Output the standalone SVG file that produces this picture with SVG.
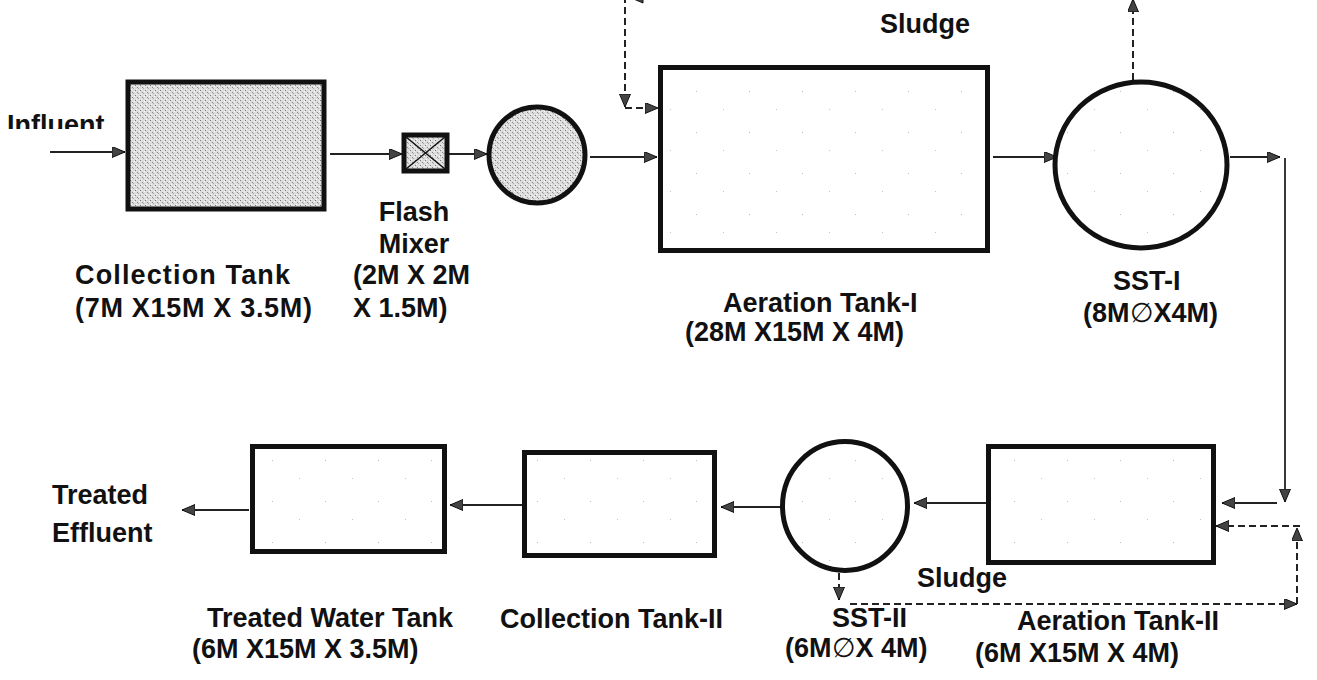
<svg xmlns="http://www.w3.org/2000/svg" width="1317" height="680" viewBox="0 0 1317 680">
<style>
text{font-family:"Liberation Sans",Arial,sans-serif;font-weight:bold;font-size:27px;fill:#111}
.thin{font-weight:normal}
.tank{stroke:#111;stroke-width:5;fill:url(#sparse)}
.dense{stroke:#111;stroke-width:5;fill:url(#dense)}
.flow{stroke:#222;stroke-width:1.8;fill:none;marker-end:url(#ah)}
.dash{stroke:#222;stroke-width:2;fill:none;stroke-dasharray:7 4}
.dashA{stroke:#222;stroke-width:2;fill:none;stroke-dasharray:7 4;marker-end:url(#ah)}
</style>
<defs>
<marker id="ah" markerUnits="userSpaceOnUse" markerWidth="14" markerHeight="12" refX="13" refY="5.5" orient="auto">
<path d="M0,0 L13,5.5 L0,11 z" fill="#444" stroke="#111" stroke-width="1"/>
</marker>
<pattern id="dense" width="5" height="5" patternUnits="userSpaceOnUse">
<rect width="5" height="5" fill="#dedede"/>
<rect x="0" y="0" width="1" height="1" fill="#777"/>
<rect x="2" y="2" width="1" height="1" fill="#8a8a8a"/>
<rect x="4" y="1" width="1" height="1" fill="#fafafa"/>
<rect x="1" y="4" width="1" height="1" fill="#f6f6f6"/>
<rect x="3" y="3" width="1" height="1" fill="#aaa"/>
</pattern>
<pattern id="sparse" width="53" height="41" patternUnits="userSpaceOnUse">
<rect width="53" height="41" fill="#fff"/>
<rect x="7" y="9" width="1" height="1" fill="#bbb"/>
<rect x="34" y="27" width="1" height="1" fill="#c4c4c4"/>
</pattern>
<clipPath id="clipInf"><rect x="0" y="0" width="200" height="129"/></clipPath>
</defs>
<rect width="1317" height="680" fill="#fff"/>

<g id="connectors">
<line class="flow" x1="50" y1="152" x2="125" y2="152"/>
<line class="flow" x1="330" y1="154" x2="402" y2="154"/>
<line class="flow" x1="449" y1="154" x2="487" y2="154"/>
<line class="flow" x1="590" y1="157" x2="657" y2="157"/>
<line class="flow" x1="993" y1="157" x2="1057" y2="157"/>
<line class="flow" x1="1230" y1="157" x2="1280" y2="157"/>
<line class="flow" x1="1285" y1="158" x2="1285" y2="502"/>
<line class="flow" x1="1277" y1="503" x2="1222" y2="503"/>
<line class="flow" x1="986" y1="503" x2="914" y2="503"/>
<line class="flow" x1="780" y1="507" x2="721" y2="507"/>
<line class="flow" x1="522" y1="505" x2="450" y2="505"/>
<line class="flow" x1="249" y1="510" x2="182" y2="510"/>
<line class="dashA" x1="1133" y1="80" x2="1133" y2="-1"/>
<line class="dash" x1="1133" y1="-4" x2="642" y2="-4"/>
<path d="M629,-3 L643,-9 L643,3 z" fill="#444" stroke="#111" stroke-width="1"/>
<line class="dashA" x1="625" y1="-4" x2="625" y2="107"/>
<line class="dashA" x1="625" y1="108" x2="658" y2="108"/>
<line class="dashA" x1="839" y1="573" x2="839" y2="600"/>
<line class="dashA" x1="850" y1="604" x2="1297" y2="604"/>
<line class="dashA" x1="1297" y1="604" x2="1297" y2="528"/>
<line class="dashA" x1="1300" y1="526" x2="1216" y2="526"/>
</g>

<g id="collection-tank">
<rect class="dense" x="128" y="82" width="196" height="127" stroke-width="6"/>
<text x="75" y="284" textLength="215">Collection Tank</text>
<text x="75" y="317" textLength="237">(7M X15M X 3.5M)</text>
</g>
<g id="influent">
<text x="7" y="134" clip-path="url(#clipInf)">Influent</text>
</g>
<g id="flash-mixer">
<rect class="dense" x="404" y="135" width="43" height="36" stroke-width="4"/>
<path d="M406,137 L445,169 M445,137 L406,169" stroke="#111" stroke-width="1.5"/>
<text x="414" y="221" text-anchor="middle">Flash</text>
<text x="414" y="253" text-anchor="middle">Mixer</text>
<text x="353" y="284">(2M X 2M</text>
<text x="353" y="317">X 1.5M)</text>
</g>
<g id="flocculator">
<circle class="dense" cx="537" cy="155" r="48" stroke-width="4.5"/>
</g>
<g id="aeration-tank-1">
<rect class="tank" x="660.5" y="67.5" width="327" height="183"/>
<text x="723" y="312">Aeration Tank-I</text>
<text x="685" y="341">(28M X15M X 4M)</text>
</g>
<g id="sludge-1">
<text x="880" y="33">Sludge</text>
</g>
<g id="sst-1">
<ellipse class="tank" cx="1141" cy="165" rx="86" ry="83" stroke-width="4.5"/>
<text x="1113" y="290">SST-I</text>
<text x="1083" y="322">(8M<tspan class="thin">∅</tspan>X4M)</text>
</g>
<g id="aeration-tank-2">
<rect class="tank" x="988.5" y="446.5" width="225" height="116"/>
<text x="1017" y="630">Aeration Tank-II</text>
<text x="975" y="662">(6M X15M X 4M)</text>
</g>
<g id="sludge-2">
<text x="917" y="587">Sludge</text>
</g>
<g id="sst-2">
<ellipse class="tank" cx="845" cy="506" rx="62.5" ry="64.5"/>
<text x="832" y="627">SST-II</text>
<text x="785" y="657">(6M<tspan class="thin">∅</tspan>X 4M)</text>
</g>
<g id="collection-tank-2">
<rect class="tank" x="524.5" y="452.5" width="190" height="103"/>
<text x="500" y="628">Collection Tank-II</text>
</g>
<g id="treated-water-tank">
<rect class="tank" x="252.5" y="446.5" width="192" height="105"/>
<text x="207" y="627">Treated Water Tank</text>
<text x="192" y="658">(6M X15M X 3.5M)</text>
</g>
<g id="treated-effluent">
<text x="52" y="504">Treated</text>
<text x="52" y="542">Effluent</text>
</g>
</svg>
